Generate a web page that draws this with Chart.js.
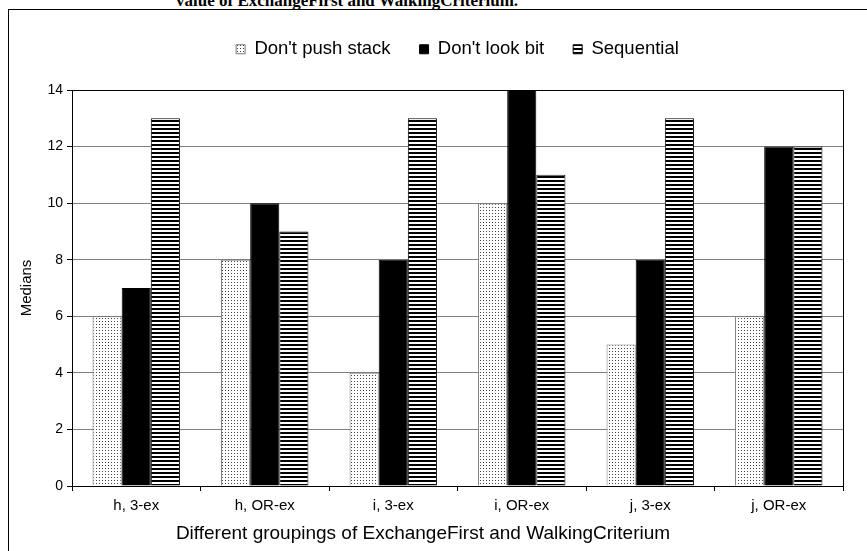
<!DOCTYPE html>
<html>
<head>
    <title>Medians by grouping</title>
    <script src="https://cdn.jsdelivr.net/npm/chart.js"></script>
    <style>
        body { margin: 0; background: #fff; }
        .page { position: relative; width: 867px; height: 551px; overflow: hidden; }
        .frame {
            position: absolute; left: 8px; top: 9px; width: 900px; height: 600px;
            border-left: 1px solid #000; border-top: 1px solid #000;
        }
        .chart-title {
            position: absolute; left: 176px; top: -8px;
            font-family: "Liberation Serif", "Times New Roman", serif;
            font-weight: bold; font-size: 17px; line-height: 17px; white-space: nowrap;
        }
        canvas { position: absolute; left: 0; top: 0; }
    </style>
</head>
<body>
    <div class="page">
        <div class="frame"></div>
        <div class="chart-title">value of ExchangeFirst and WalkingCriterium.</div>
        <canvas id="chart" width="867" height="551"></canvas>
    </div>

    <script>
        // 數據
        const categories = ['h, 3-ex', 'h, OR-ex', 'i, 3-ex', 'i, OR-ex', 'j, 3-ex', 'j, OR-ex'];
        const dontPushStack = [6, 8, 4, 10, 5, 6];
        const dontLookBit = [7, 10, 8, 14, 8, 12];
        const sequential = [13, 9, 13, 11, 13, 12];
        const yMin = 0, yMax = 14, yStep = 2;
        const xTitleText = 'Different groupings of ExchangeFirst and WalkingCriterium';

        const ctx = document.getElementById('chart').getContext('2d');
        const font = 'Liberation Sans, Arial, sans-serif';

        // 填充圖案
        function makePattern(w, h, draw) {
            const c = document.createElement('canvas');
            c.width = w; c.height = h;
            const g = c.getContext('2d');
            draw(g);
            return ctx.createPattern(c, 'repeat');
        }
        const dots = makePattern(3, 3, g => {
            g.fillStyle = '#fff'; g.fillRect(0, 0, 3, 3);
            g.fillStyle = '#444'; g.fillRect(0, 0, 1, 1);
        });
        const stripes = makePattern(4, 4, g => {
            g.fillStyle = '#fff'; g.fillRect(0, 0, 4, 4);
            g.fillStyle = '#000'; g.fillRect(0, 0, 4, 2);
        });

        // 圖表區右邊框 + x 軸標題（原圖標題不在圖表區正中）
        const extras = {
            id: 'extras',
            afterDatasetsDraw(chart) {
                const a = chart.chartArea, c = chart.ctx;
                c.save();
                c.strokeStyle = '#000'; c.lineWidth = 1;
                c.beginPath();
                c.moveTo(Math.round(a.right) + 0.5, a.top);
                c.lineTo(Math.round(a.right) + 0.5, a.bottom);
                c.stroke();
                c.restore();
            },
            afterDraw(chart) {
                const c = chart.ctx;
                c.save();
                c.font = '19px ' + font;
                c.fillStyle = '#000';
                c.textAlign = 'center';
                c.textBaseline = 'middle';
                c.fillText(xTitleText, 423, 534);
                c.restore();
            }
        };

        new Chart(ctx, {
            type: 'bar',
            data: {
                labels: categories,
                datasets: [
                    { label: "Don't push stack", data: dontPushStack, backgroundColor: dots, borderColor: '#777', borderWidth: 1 },
                    { label: "Don't look bit", data: dontLookBit, backgroundColor: '#000', borderColor: '#000', borderWidth: 1 },
                    { label: 'Sequential', data: sequential, backgroundColor: stripes, borderColor: '#000', borderWidth: 1 }
                ]
            },
            options: {
                responsive: false,
                animation: false,
                devicePixelRatio: 1,
                layout: { padding: { top: 11, right: 24, bottom: 0, left: 0 } },
                datasets: { bar: { categoryPercentage: 0.68, barPercentage: 1.0 } },
                plugins: {
                    legend: {
                        position: 'top',
                        fullSize: false,
                        labels: {
                            boxWidth: 9, boxHeight: 9, padding: 29, color: '#000',
                            font: { family: font, size: 18.5 }
                        }
                    },
                    subtitle: {
                        display: true, text: ' ', weight: 500,
                        font: { size: 10 }, padding: { top: 5, bottom: 4.5 }
                    },
                    tooltip: { enabled: false }
                },
                scales: {
                    x: {
                        afterFit(s) { s.height = 65; },
                        grid: { drawOnChartArea: false, drawTicks: true, tickLength: 5, tickColor: '#000' },
                        border: { color: '#000', width: 1 },
                        ticks: { color: '#000', padding: 6, maxRotation: 0, autoSkip: false, font: { family: font, size: 15 } }
                    },
                    y: {
                        min: yMin, max: yMax,
                        afterFit(s) { s.width = 72; },
                        grid: {
                            color: c => (c.tick && c.tick.value === yMax) ? '#000' : '#808080',
                            tickColor: '#000', tickLength: 5, drawTicks: true
                        },
                        border: { color: '#000', width: 1 },
                        ticks: { stepSize: yStep, color: '#000', padding: 4, font: { family: font, size: 14 } },
                        title: {
                            display: true, text: 'Medians', color: '#000',
                            font: { family: font, size: 15 }, padding: { top: 18, bottom: 0 }
                        }
                    }
                }
            },
            plugins: [extras]
        });
    </script>
</body>
</html>
